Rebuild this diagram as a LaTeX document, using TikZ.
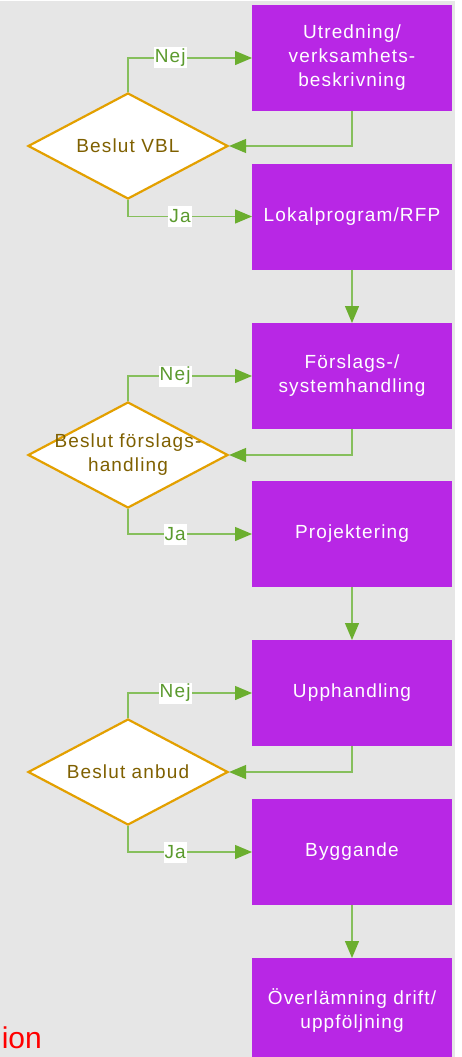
\documentclass[tikz,border=0pt]{standalone}
\usepackage{fontspec}
\setmainfont{Liberation Sans}[LetterSpace=6]
\newfontfamily\redfont{Liberation Sans}
\usetikzlibrary{shapes.geometric,arrows.meta}
\definecolor{bg}{HTML}{E6E6E6}
\definecolor{boxpurple}{HTML}{B827E5}
\definecolor{lineg}{HTML}{86BF5C}
\definecolor{tipg}{HTML}{6BAE2F}
\definecolor{dborder}{HTML}{E3A000}
\definecolor{dtext}{HTML}{7F6000}
\definecolor{labg}{HTML}{5B9A2E}
\begin{document}
\begin{tikzpicture}[x=1pt,y=-1pt,
 stepbox/.style={rectangle,fill=boxpurple,draw=none,minimum width=200pt,minimum height=106pt,inner sep=0pt,outer sep=0pt,text=white,align=center,font=\fontsize{19}{24}\selectfont},
 decision/.style={diamond,fill=white,draw=dborder,line width=2.2pt,minimum width=200pt,minimum height=106pt,inner sep=0pt},
 dlabel/.style={text=dtext,align=center,font=\fontsize{19}{24}\selectfont},
 flow/.style={draw=lineg,line width=1.3pt,-{Triangle[length=17pt,width=14pt,color=tipg]}},
 tag/.style={fill=white,text=labg,font=\fontsize{19}{20}\selectfont,inner xsep=1pt,inner ysep=1pt,minimum height=21pt}
]
\useasboundingbox (0,0) rectangle (462,1057);
\fill[bg] (0,1) rectangle (455,1057);

\node[stepbox] (b1) at (352,58) {Utredning/\\verksamhets-\\beskrivning};
\node[stepbox] (b2) at (352,216.5) {Lokalprogram/RFP};
\node[stepbox] (b3) at (352,376) {Förslags-/\\systemhandling};
\node[stepbox] (b4) at (352,534) {Projektering};
\node[stepbox] (b5) at (352,693) {Upphandling};
\node[stepbox] (b6) at (352,852) {Byggande};
\node[stepbox] (b7) at (352,1011) {Överlämning drift/\\uppföljning};

\node[decision,label={[dlabel]center:Beslut VBL}] (d1) at (128,146) {};
\node[decision,label={[dlabel]center:Beslut förslags-\\handling}] (d2) at (128,455) {};
\node[decision,label={[dlabel]center:Beslut anbud}] (d3) at (128,772) {};

\node[anchor=base east,text=red,font=\redfont\fontsize{30}{32}\selectfont,inner sep=0pt] (ion) at (42,1048) {ion};

\draw[flow] (d1.north) |- node[tag,pos=0.67]{Nej} (b1.west);
\draw[flow] (d1.south) |- node[tag,pos=0.71]{Ja} (b2.west);
\draw[flow] (b1.south) |- (d1.east);
\draw[flow] (b2.south) -- (b3.north);

\draw[flow] (d2.north) |- node[tag,pos=0.69]{Nej} (b3.west);
\draw[flow] (d2.south) |- node[tag,pos=0.69]{Ja} (b4.west);
\draw[flow] (b3.south) |- (d2.east);
\draw[flow] (b4.south) -- (b5.north);

\draw[flow] (d3.north) |- node[tag,pos=0.69]{Nej} (b5.west);
\draw[flow] (d3.south) |- node[tag,pos=0.69]{Ja} (b6.west);
\draw[flow] (b5.south) |- (d3.east);
\draw[flow] (b6.south) -- (b7.north);
\end{tikzpicture}
\end{document}
